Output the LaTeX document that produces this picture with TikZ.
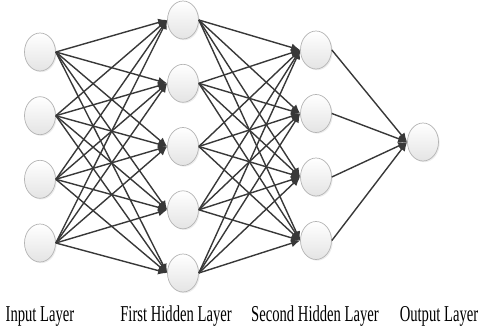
\documentclass[tikz,border=0pt]{standalone}
\usepackage{fontspec}
\setmainfont{Liberation Serif}
\usetikzlibrary{arrows.meta,shapes.geometric,shadows}
\definecolor{edgegray}{HTML}{383838}
\definecolor{rimgray}{HTML}{B4B4B4}
\definecolor{lowfill}{HTML}{E4E4E4}
\tikzset{
  neuron/.style={ellipse, draw=rimgray, line width=0.7pt,
    minimum width=31pt, minimum height=38pt, inner sep=0pt,
    top color=white, bottom color=lowfill,
    drop shadow={shadow xshift=1.2pt, shadow yshift=-1.2pt, fill=black!12, opacity=0.6}},
  link/.style={draw=edgegray, line width=1.4pt,
    -{Latex[length=9pt,width=8pt]}},
  caption/.style={anchor=base, inner sep=0pt,
    font=\fontsize{22.7}{26}\selectfont}
}
\begin{document}
\begin{tikzpicture}[x=1pt,y=-1pt]
\useasboundingbox (0,0) rectangle (482,331);
% input layer
\foreach \k/\yy in {1/52,2/115.7,3/179.3,4/243}
  \node[neuron] (i\k) at (40,\yy) {};
% first hidden layer
\foreach \k/\yy in {1/20,2/83.3,3/146.5,4/209.8,5/273}
  \node[neuron] (a\k) at (183,\yy) {};
% second hidden layer
\foreach \k/\yy in {1/50,2/113.5,3/177,4/240.5}
  \node[neuron] (b\k) at (316,\yy) {};
% output layer
\node[neuron] (o) at (423,142) {};
% connections
\foreach \s in {1,...,4}
  \foreach \t in {1,...,5}
    \draw[link] (i\s.east) -- (a\t.west);
\foreach \s in {1,...,5}
  \foreach \t in {1,...,4}
    \draw[link] (a\s.east) -- (b\t.west);
\foreach \s in {1,...,4}
  \draw[link] (b\s.east) -- (o.west);
% layer captions
\node[caption] (l1) at (40,321) {\scalebox{0.645}[1]{Input Layer}};
\node[caption] (l2) at (176,321) {\scalebox{0.645}[1]{First Hidden Layer}};
\node[caption] (l3) at (315,321) {\scalebox{0.645}[1]{Second Hidden Layer}};
\node[caption] (l4) at (439,321) {\scalebox{0.645}[1]{Output Layer}};
\end{tikzpicture}
\end{document}
